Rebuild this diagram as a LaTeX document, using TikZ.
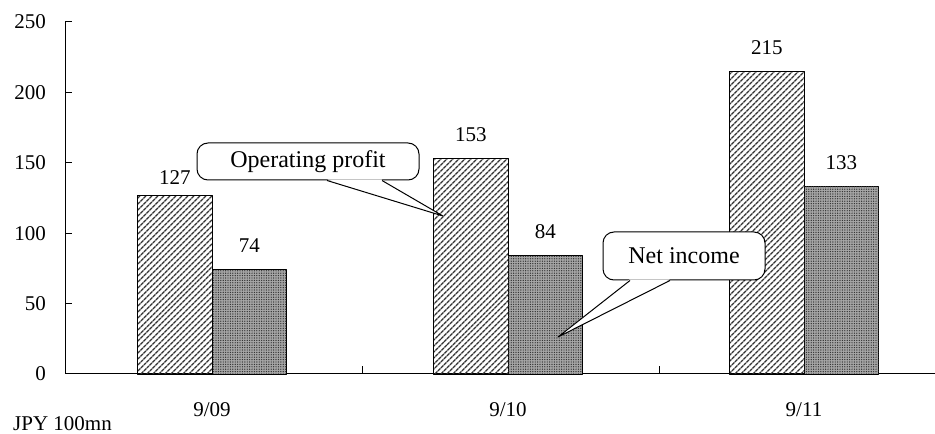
\documentclass[tikz,border=0pt]{standalone}
\usepackage{fontspec}
\setmainfont{Liberation Serif}
\usetikzlibrary{patterns.meta,calc}
\begin{document}
\begin{tikzpicture}[x=1pt,y=1pt,line join=round,
    lbl/.style={font=\fontsize{21}{24}\selectfont,inner sep=0pt},
    hatchbar/.style={draw,line width=0.9pt,pattern={Lines[angle=45,distance=4pt,line width=1.6pt]},pattern color=black!80},
    dotbar/.style={draw,line width=0.9pt,fill=black!35,postaction={pattern={Dots[distance=2.4pt,radius=0.7pt]},pattern color=black!80}},
    balloon/.style={draw,line width=1pt,fill=white,rounded corners=11pt,font=\fontsize{24}{26}\selectfont,inner sep=0pt}]
    \useasboundingbox (0,0) rectangle (935,434);
    \def\yz{60} \def\ys{1.408} \def\bw{74.5}
    % axes
    \draw[line width=1pt] (65,\yz+250*\ys) -- (65,\yz) -- (935,\yz);
    \foreach \v in {0,50,...,250}{
        \draw[line width=1pt] (65,\yz+\v*\ys) -- (72,\yz+\v*\ys);
        \node[lbl,anchor=east] (tick\v) at (46,\yz+\v*\ys) {\v};
    }
    \foreach \t in {362,659}
    \draw[line width=1pt] (\t,\yz) -- (\t,\yz+8);
    % bars
    \foreach \c/\op/\ni/\yr/\dy in {212/127/74/09/18,508/153/84/10/24,804/215/133/11/24}{
        \draw[hatchbar] (\c-\bw,\yz) rectangle (\c,\yz+\op*\ys);
        \draw[dotbar] (\c,\yz) rectangle (\c+\bw,\yz+\ni*\ys);
        \node[lbl] (op\yr) at (\c-\bw/2,\yz+\op*\ys+\dy) {\op};
        \node[lbl] (ni\yr) at (\c+\bw/2,\yz+\ni*\ys+24) {\ni};
        \node[lbl,anchor=base] (yr\yr) at (\c,17) {9/\yr};
    }
    \node[lbl,anchor=base west] (unit) at (13,4) {JPY 100mn};
    % callouts
    \node[balloon,minimum width=222,minimum height=37] (opcall) at (308,272.5) {Operating profit};
    \coordinate (optip) at (443,218);
    \fill[white] ($(opcall.south)+(19.5,1)$) -- (optip) -- ($(opcall.south)+(73.5,1)$) -- cycle;
    \draw[line width=1pt] ($(opcall.south)+(19,0)$) -- (optip) -- ($(opcall.south)+(74,0)$);
    \node[balloon,minimum width=162,minimum height=48] (nicall) at (684,178) {Net income};
    \coordinate (nitip) at (558,97);
    \fill[white] ($(nicall.south)+(-54.5,1)$) -- (nitip) -- ($(nicall.south)+(-14.5,1)$) -- cycle;
    \draw[line width=1pt] ($(nicall.south)+(-54,0)$) -- (nitip) -- ($(nicall.south)+(-14,0)$);
\end{tikzpicture}
\end{document}
